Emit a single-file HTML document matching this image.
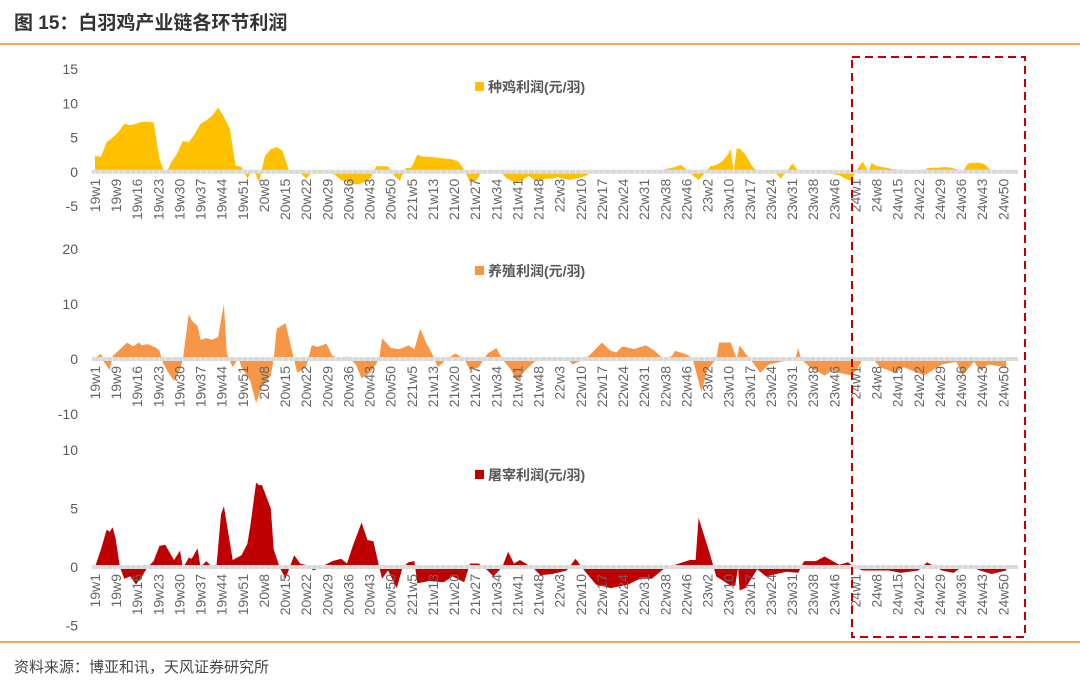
<!DOCTYPE html>
<html><head><meta charset="utf-8"><style>
html,body{margin:0;padding:0;background:#fff;}
svg{display:block;font-family:"Liberation Sans","Noto Sans CJK SC",sans-serif;}
</style></head><body>
<svg id="chart" width="1080" height="684" viewBox="0 0 1080 684">
<text x="14" y="29" font-size="19" font-weight="bold" fill="#333">图 15：白羽鸡产业链各环节利润</text>
<line x1="0" y1="44" x2="1080" y2="44" stroke="#ef8a2a" stroke-width="1.5"/>
<line x1="0" y1="642" x2="1080" y2="642" stroke="#ef8a2a" stroke-width="1.5"/>
<text x="14" y="672" font-size="15" fill="#444">资料来源：博亚和讯，天风证券研究所</text>
<g id="plots"></g>
<rect x="852" y="57" width="173" height="580" fill="none" stroke="#c00000" stroke-width="2" stroke-dasharray="8,5"/>
</svg>
<script>
// week labels
const xLabels = ['19w1','19w9','19w16','19w23','19w30','19w37','19w44','19w51','20w8','20w15','20w22','20w29','20w36','20w43','20w50','221w5','21w13','21w20','21w27','21w34','21w41','21w48','22w3','22w10','22w17','22w24','22w31','22w38','22w46','23w2','23w10','23w17','23w24','23w31','23w38','23w46','24w1','24w8','24w15','24w22','24w29','24w36','24w43','24w50'];
// breeder profit (week index, value)
const breederWeeks = [0,2,4,6,8,10,12,14,16,18,20,22,24,26,28,30,32,34,36,38,40,42,44,46,48,50,52,54,56,58,60,62,64,66,68,70,72,74,76,78,80,82,84,86,88,90,92,94,96,98,100,102,104,106,108,110,112,114,116,118,120,122,124,126,128,130,132,134,136,138,140,142,144,146,148,150,152,154,156,158,160,162,164,166,168,170,172,190,192,194,196,198,200,202,204,206,208,210,212,214,216,217,218,219,220,222,224,226,230,232,234,236,238,240,242,246,250,254,256,258,260,262,264,265,266,267,270,272,274,276,278,280,282,284,286,288,290,292,294,296,298,299,300,302,304,306,308,310,311];
const breederVals = [2.3,2.2,4.3,5,5.8,7,6.8,7,7.3,7.3,7.2,1.9,-0.5,1.4,2.6,4.5,4.3,5.5,7,7.5,8.2,9.4,8,6.3,0.9,0.7,-1,0.4,-1.5,2.3,3.3,3.6,3.1,0.4,-0.3,-0.1,-1,-0.1,0,0,0.1,-0.5,-1.2,-1.5,-1.8,-1.8,-1.5,-1,0.8,0.8,0.8,-0.5,-1.3,0.5,0.6,2.5,2.2,2.2,2.1,2,1.9,1.8,1.5,0.3,-1.5,-1.3,0,0.2,0.1,0.3,-0.8,-1.3,-1.5,-1.2,-0.6,-1.2,-1.2,-1,-1,-0.8,-1,-1.2,-1,-0.8,-0.5,0.2,0,0,0.2,0.3,0.5,0.7,1,0.3,-0.5,-1.2,-0.3,0.8,1,1.5,2.5,3.3,0,3.4,3.4,2.5,1,0,-0.2,0,-1,0,1.2,0.2,0,-0.2,-0.2,-0.5,-1,-1.3,0.3,1.5,0,1.3,1,0.8,0.6,0.4,0.3,0.3,0.3,0.2,-0.3,0.5,0.6,0.6,0.7,0.6,0.4,0,1.2,1.3,1.3,1.3,1,0,0];
// farming profit
const farmWeeks = [0,2,3,5,6,8,11,13,15,16,18,21,22,23,25,27,29,30,32,33,35,36,38,40,42,44,45,47,49,50,53,55,57,60,61,62,65,67,69,72,74,76,79,81,84,86,89,91,94,97,98,101,104,107,109,111,113,115,117,120,123,126,128,131,134,137,139,142,144,147,150,152,155,161,163,167,169,173,176,178,180,184,188,191,194,197,198,202,204,207,209,212,213,217,219,220,222,225,227,230,234,239,240,241,244,249,252,254,258,260,262,265,268,273,276,283,289,294,296,300,302,305,311];
const farmVals = [0,1,-0.5,-2,0.5,1.5,3,2.3,3,2.5,2.7,2,1.5,-0.5,-2.5,-4,-2,0,8.2,7,6,3.5,3.8,3.5,4,10,1,-1.5,0.2,-1.5,-4,-8,-5,-3,0,5.5,6.5,2,-2.5,-1.5,2.5,2.2,2.8,0.6,0,0.5,-1,-3.5,-2.5,0,3.8,2,1.8,2.5,1.8,5.5,3,1,-1.5,0,1,0,-2,-1.5,1,2,0,-2,-4,-2,-0.5,0.2,0.3,0.3,-1,0,0.8,3,1.5,1.2,2.3,1.8,2.5,1.5,0,0.6,1.5,0.8,0,-6,-2,0,3,3,0,2.5,1,-1,-2.5,-1,-0.5,0,2,0,-1.5,-3,-2,-2.5,-3,-2,0,0.3,-1.5,-2.5,-1.5,-3,-1,-0.5,-3,-0.5,-2,-1,-1.5];
// slaughter profit
const slaughterWeeks = [0,2,4,5,6,7,8.5,10,12,14,16,18,20,22,24,26,27,29,30,32,33,35,36,38,40,41.5,43,44,47,50,52,53,55,56,57,60,61,63,65,66.5,68,70,73,74.5,78,81,84,86,88,91,93,95,97,98,100,103,105,107,109,110,114,119,122,126,128,131,134,136,139,141,143,145,147,150,152,156,161,164,167,171,176,182,186,190,194,198,203,205,206,210,212,217,218.5,219.5,220,222,226,229,236,240,242,246,249,254,257,259,262,266,271,275,281,284,289,293,297,302,306,311];
const slaughterVals = [0,1.5,3.2,3,3.4,2.5,0,-1,-0.8,-1.5,-0.8,0,0.5,1.8,1.9,1,0.6,1.4,-0.1,0.8,0.7,1.6,0,0.5,0,0.2,4.5,5.2,0.6,1,2,3.5,7.2,7,7,5,1.5,0,-1,0,1,0.3,0.1,-0.3,0.1,0.5,0.7,0.3,1.8,3.8,2.3,2.2,0,-1,-0.3,-1.8,0,0.4,0.5,-1.4,-1.2,-1.3,-0.8,-1.3,0.3,0.3,-0.3,-0.8,0,1.3,0.3,0.6,0.3,-0.2,-0.7,-0.6,-0.3,0.7,-0.3,-1.5,-1.8,-1.5,-1,-1,-0.2,0.2,0.6,0.6,4.2,1,-0.8,-1.6,-1.6,0,-2,-1.8,-0.2,-0.8,-0.4,-0.5,0.5,0.5,0.9,0.2,0.4,0,-0.3,-0.3,-0.3,-0.5,-0.3,0.4,-0.3,-0.5,0.2,-0.3,-0.6,-0.3];
const ticks1 = [15,10,5,0,-5], ticks2 = [20,10,0,-10], ticks3 = [10,5,0,-5];

const NS = 'http://www.w3.org/2000/svg';
const root = document.getElementById('plots');
function mk(tag, attrs, parent){const e=document.createElementNS(NS,tag);for(const k in attrs)e.setAttribute(k,attrs[k]);(parent||root).appendChild(e);return e;}
const xScale = i => 95 + 2.93 * i;
const panels = [
  {name:'breeder',weeks:breederWeeks,vals:breederVals,ticks:ticks1,yTop:69,vTop:15,ppu:6.85,color:'#ffc000',legend:'种鸡利润(元/羽)',ly:87},
  {name:'farming',weeks:farmWeeks,vals:farmVals,ticks:ticks2,yTop:249,vTop:20,ppu:5.5,color:'#f79646',legend:'养殖利润(元/羽)',ly:271},
  {name:'slaughter',weeks:slaughterWeeks,vals:slaughterVals,ticks:ticks3,yTop:450,vTop:10,ppu:11.7,color:'#c00000',legend:'屠宰利润(元/羽)',ly:475}
];
panels.forEach(p=>{
  const y = v => p.yTop + (p.vTop - v) * p.ppu;
  const g = mk('g',{});
  
  
  p.ticks.forEach(t=>{
    const tx = mk('text',{x:78,y:y(t)+5,'text-anchor':'end','font-size':14,fill:'#595959'},g);
    
    
    tx.textContent = t;
  });
  const y0 = y(0);
  let d = 'M'+xScale(p.weeks[0])+','+y0;
  p.weeks.forEach((w,k)=>{ d += ' L'+xScale(w).toFixed(1)+','+y(p.vals[k]).toFixed(1); });
  d += ' L'+xScale(p.weeks[p.weeks.length-1])+','+y0+' Z';
  const area = mk('path',{d:d,fill:p.color},g);
  
  
  const ax = mk('line',{x1:92,x2:1018,y1:y0,y2:y0,stroke:'#d9d9d9','stroke-width':4},g);
  
  
  for(let i=0;i<312;i+=2){
    const tk = mk('line',{x1:xScale(i),x2:xScale(i),y1:y0-2,y2:y0+2,stroke:'#fff','stroke-width':0.6,opacity:0.7},g);
    
    
  }
  xLabels.forEach((lab,j)=>{
    const lx = xScale(j*310/43)+5, ly = y0+7;
    const tx = mk('text',{x:lx,y:ly,transform:'rotate(-90 '+lx+' '+ly+')','text-anchor':'end','font-size':14,fill:'#666'},g);
    
    
    tx.textContent = lab;
  });
  const sq = mk('rect',{x:475,y:p.ly-5,width:9,height:9,fill:p.color},g);
  
  
  const lt = mk('text',{x:488,y:p.ly+5,'font-size':14,'font-weight':'bold',fill:'#595959'},g);
  
  
  lt.textContent = p.legend;
});
</script>
</body></html>
